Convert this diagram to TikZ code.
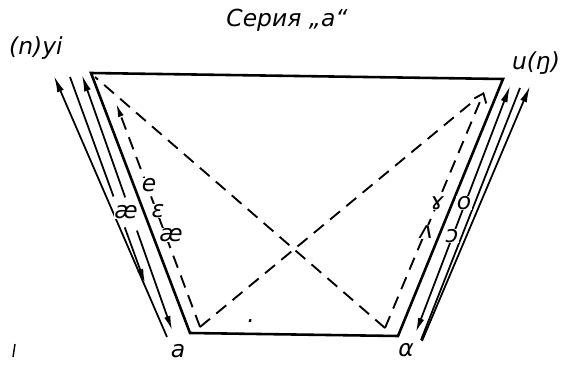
\documentclass[tikz,border=0pt]{standalone}
\usepackage{fontspec}
\setmainfont{DejaVu Sans}
\usetikzlibrary{arrows.meta,calc}

\begin{document}
\begin{tikzpicture}[
  x=0.03cm, y=-0.03cm,
  every node/.style={font=\itshape\fontsize{20}{22}\selectfont, inner sep=1pt},
  edge/.style={line width=2.2pt, line join=miter},
  move/.style={line width=1.5pt},
  up/.style={move,-{Latex[length=14pt,width=6pt]}},
  down/.style={move,-{Latex[length=12pt,width=5.5pt]}},
  glide/.style={line width=1.6pt, dash pattern=on 11pt off 7pt},
  sound/.style={fill=white, inner sep=0.5pt}
]
\useasboundingbox (0,0) rectangle (565,366);

% trapezoid
\coordinate (tl) at (91,73);
\coordinate (tr) at (503,79);
\coordinate (br) at (398,336);
\coordinate (bl) at (190,333);
\draw[edge] (tl) -- (tr) -- (br) -- (bl) -- cycle;

% left side movements
\coordinate (l1t) at (54,76);
\coordinate (l1b) at (167,337);
\coordinate (l2t) at (70,77);
\coordinate (l2b) at (145,283);
\coordinate (l3t) at (82,75);
\coordinate (l3b) at (172,330);
\draw[up] (l1b) -- (l1t);
\draw[move] (l2t) -- ($(l2t)!.58!(l2b)$);
\draw[down] ($(l2t)!.73!(l2b)$) -- (l2b);
\draw[up] ($(l3t)!.48!(l3b)$) -- (l3t);
\draw[down] ($(l3t)!.61!(l3b)$) -- (l3b);

% right side movements
\coordinate (r1t) at (510,86);
\coordinate (r1b) at (416,332);
\coordinate (r2t) at (520,88);
\coordinate (r2b) at (421,340);
\coordinate (r3t) at (530,86);
\coordinate (r3b) at (422,341);
\draw[up] ($(r1t)!.5!(r1b)$) -- (r1t);
\draw[down] ($(r1t)!.5!(r1b)$) -- (r1b);
\draw[move] (r2t) -- (r2b);
\draw[up] (r3b) -- (r3t);

% dashed lines
\coordinate (bli) at (200,327);
\coordinate (bri) at (385,328);
\coordinate (lda) at (116,103);
\coordinate (rda) at (484,92);
\coordinate (d1e) at (476,99);
\coordinate (d2e) at (95,77);
\draw[glide,-{Latex[length=12pt,width=5pt]}] (bli) -- (lda);
\draw[glide,-{Straight Barb[length=7pt,width=11pt]}] (bri) -- (rda);
\draw[glide] (bli) -- (d1e);
\draw[glide] (bri) -- (d2e);

% labels
\node (title) at (287,20) {Серия „а“};
\node (yi) at (36,48) {(n)yi};
\node (u) at (536,63) {u(ŋ)};
\node[sound] (ae1) at (126,212) {æ};
\node[sound] (e) at (149,185) {e};
\node[sound] (eps) at (158,211) {ε};
\node[sound] (ae2) at (171,235) {æ};
\node[sound] (gam) at (437,203) {ɤ};
\node[sound] (o) at (464,203) {o};
\node[sound] (wedge) at (426,232) {ʌ};
\node[sound] (oo) at (452,236) {ɔ};
\node (a) at (178,351) {a};
\node (alpha) at (406,350) {α};
\node (dot) at (251,321) {.};
\draw[line width=1.2pt] (13,357) -- (15,344);
\end{tikzpicture}
\end{document}
